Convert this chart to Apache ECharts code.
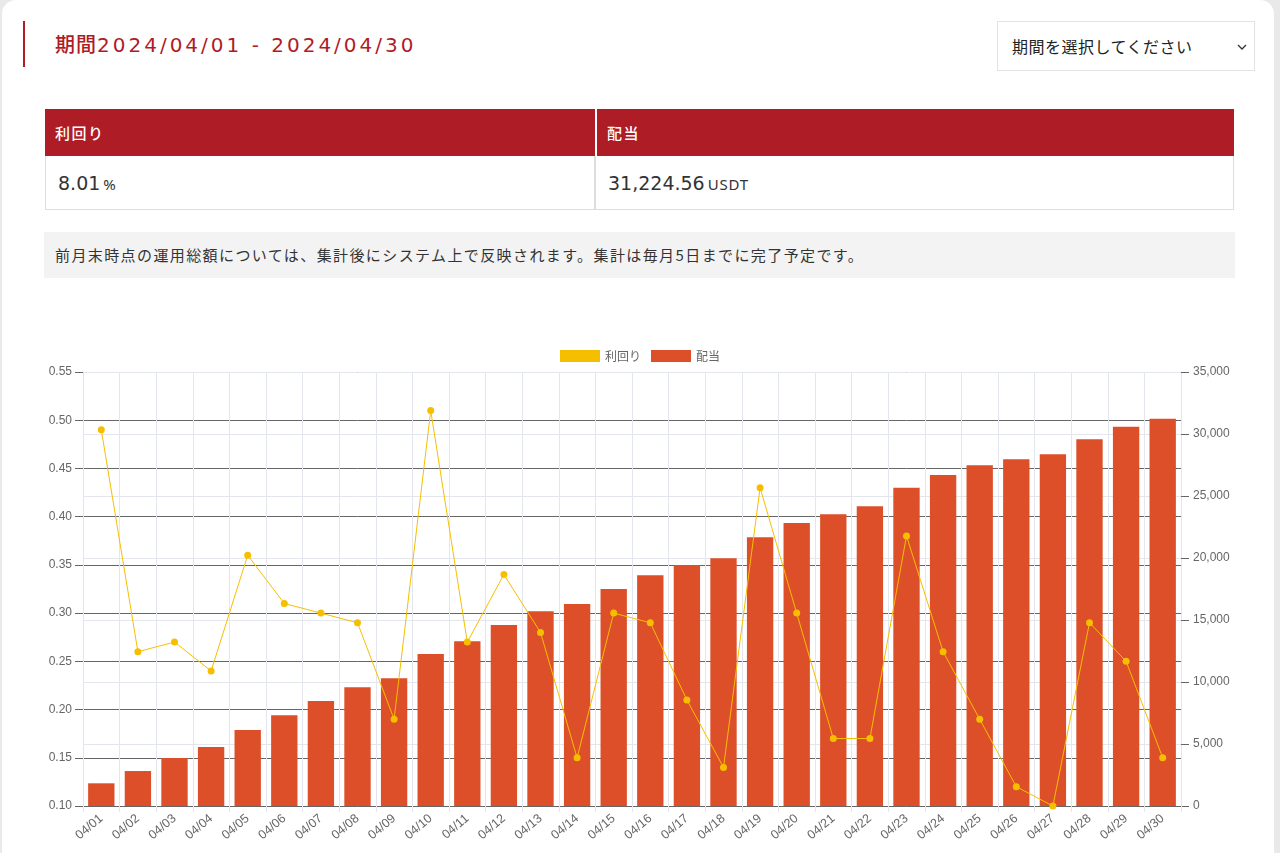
<!DOCTYPE html>
<html lang="ja">
<head>
<meta charset="utf-8">
<title>期間 2024/04</title>
<script src="https://cdn.jsdelivr.net/npm/echarts@6/dist/echarts.min.js"></script>
<style>
  html, body { margin: 0; padding: 0; }
  body {
    width: 1280px; height: 853px; overflow: hidden;
    background: #e9e9e9;
    font-family: "Noto Sans CJK JP", "Noto Sans", sans-serif;
    position: relative;
  }
  .card {
    position: absolute; left: 2px; top: 0; width: 1272px; height: 880px;
    background: #fff; border-radius: 14px;
  }
  .bar-mark { position: absolute; left: 23px; top: 21px; width: 2px; height: 46px; background: #b01c26; }
  .title {
    position: absolute; left: 55px; top: 29px; font-size: 20px; color: #b01c26;
    letter-spacing: 3px; line-height: 30px;
    font-family: "DejaVu Sans", "Noto Sans CJK JP", sans-serif;
  }
  .title .jp { font-family: "Noto Sans CJK JP", sans-serif; font-weight: 500; letter-spacing: 1px; }
  .select {
    position: absolute; left: 997px; top: 21px; width: 258px; height: 50px;
    border: 1px solid #e2e2e2; box-sizing: border-box; background: #fff;
    font-size: 16px; color: #222; line-height: 48px; padding-left: 14px; letter-spacing: 0.5px;
  }
  .select svg { position: absolute; right: 6px; top: 21px; }
  table.sum {
    position: absolute; left: 45px; top: 109px; width: 1189px;
    border-collapse: separate; border-spacing: 0;
  }
  table.sum th {
    background: #ae1c25; color: #fff; font-weight: 500; font-size: 15px; letter-spacing: 1.5px;
    text-align: left; height: 47px; padding: 0 0 0 10px; box-sizing: border-box;
  }
  table.sum td {
    height: 54px; font-size: 19px; color: #333; padding: 0 0 0 12px;
    font-family: "DejaVu Sans", sans-serif;
    border-left: 1px solid #ddd; border-right: 1px solid #ddd; border-bottom: 1px solid #ddd;
    box-sizing: border-box;
  }
  table.sum th.c1, table.sum td.c1 { width: 550px; }
  table.sum th.c2 { border-left: 2px solid #fff; }
  table.sum td.c2 { border-left: 1px solid #ddd; }
  table.sum td small { font-size: 15px; font-family: "Noto Sans", sans-serif; margin-left: 3px; letter-spacing: 0.8px; }
  .note {
    position: absolute; left: 44px; top: 232px; width: 1191px; height: 46px;
    background: #f3f3f3; font-size: 15px; color: #333; line-height: 46px; letter-spacing: 1.4px;
    padding-left: 11px; box-sizing: border-box;
  }
  #chart { position: absolute; left: 0; top: 330px; width: 1280px; height: 523px; }
</style>
</head>
<body>
<div class="card"></div>
<div class="bar-mark"></div>
<div class="title"><span class="jp">期間</span>2024/04/01 - 2024/04/30</div>
<div class="select">期間を選択してください
  <svg width="12" height="8" viewBox="0 0 12 8"><path d="M2 2 L6 6 L10 2" fill="none" stroke="#333" stroke-width="1.3"/></svg>
</div>
<table class="sum">
  <tr><th class="c1">利回り</th><th class="c2">配当</th></tr>
  <tr><td class="c1">8.01<small>%</small></td><td class="c2">31,224.56<small>USDT</small></td></tr>
</table>
<div class="note">前月末時点の運用総額については、集計後にシステム上で反映されます。集計は毎月5日までに完了予定です。</div>
<div id="chart"></div>

<script>
// 日付
var days = ["04/01","04/02","04/03","04/04","04/05","04/06","04/07","04/08","04/09","04/10",
            "04/11","04/12","04/13","04/14","04/15","04/16","04/17","04/18","04/19","04/20",
            "04/21","04/22","04/23","04/24","04/25","04/26","04/27","04/28","04/29","04/30"];
// 利回り (%)
var yieldRate = [0.49,0.26,0.27,0.24,0.36,0.31,0.30,0.29,0.19,0.51,
                 0.27,0.34,0.28,0.15,0.30,0.29,0.21,0.14,0.43,0.30,
                 0.17,0.17,0.38,0.26,0.19,0.12,0.10,0.29,0.25,0.15];
// 配当 (USDT, 累計)
var dividend = [1830,2820,3870,4760,6130,7310,8470,9570,10300,12260,
                13280,14600,15700,16290,17500,18610,19440,19980,21670,22820,
                23520,24170,25670,26700,27480,27960,28370,29570,30590,31224.56];

var chart = echarts.init(document.getElementById("chart"));
var font = '"Liberation Sans", Arial, sans-serif';

chart.setOption({
  animation: false,
  legend: {
    top: 15,
    left: "center",
    itemWidth: 40,
    itemHeight: 12,
    itemGap: 10,
    textStyle: { color: "#666", fontSize: 12, fontFamily: "Noto Sans CJK JP" },
    data: [{ name: "利回り", icon: "rect" }, { name: "配当", icon: "rect" }]
  },
  grid: { left: 83, right: 99, top: 42, bottom: 47 },
  xAxis: {
    type: "category",
    data: days,
    axisLine: { lineStyle: { color: "#666" } },
    axisTick: { show: true, length: 6, lineStyle: { color: "#e3e6ec" } },
    splitLine: { show: true, lineStyle: { color: "#e3e6ec" } },
    axisLabel: { rotate: 40, color: "#666", fontSize: 12.5, fontFamily: font, margin: 11 }
  },
  yAxis: [
    {
      type: "value",
      min: 0.10,
      max: 0.55,
      interval: 0.05,
      position: "left",
      axisLine: { show: true, lineStyle: { color: "#e3e6ec" } },
      axisTick: { show: true, length: 8, lineStyle: { color: "#666" } },
      splitLine: { lineStyle: { color: "#666" } },
      axisLabel: {
        color: "#666", fontSize: 12, fontFamily: font, margin: 11,
        formatter: function (v) { return v.toFixed(2); }
      }
    },
    {
      type: "value",
      min: 0,
      max: 35000,
      interval: 5000,
      position: "right",
      axisLine: { show: true, lineStyle: { color: "#e3e6ec" } },
      axisTick: { show: true, length: 8, lineStyle: { color: "#666" } },
      splitLine: { show: true, lineStyle: { color: "#e3e6ec" } },
      axisLabel: {
        color: "#666", fontSize: 12, fontFamily: font, margin: 12,
        formatter: function (v) { return v.toLocaleString("en-US"); }
      }
    }
  ],
  series: [
    {
      name: "利回り",
      type: "line",
      yAxisIndex: 0,
      data: yieldRate,
      z: 5,
      symbol: "circle",
      symbolSize: 7,
      itemStyle: { color: "#f5bf00" },
      lineStyle: { color: "#f5bf00", width: 1 }
    },
    {
      name: "配当",
      type: "bar",
      yAxisIndex: 1,
      data: dividend,
      z: 2,
      barCategoryGap: "28%",
      itemStyle: { color: "#dd4f29" }
    }
  ]
});
</script>
</body>
</html>
